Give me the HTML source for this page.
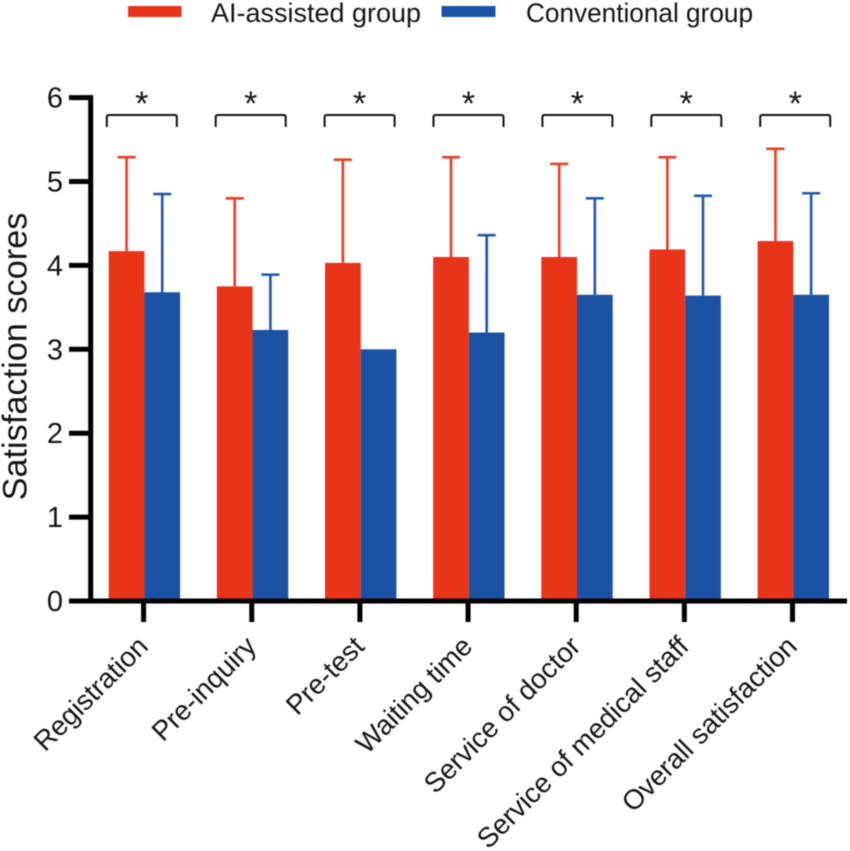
<!DOCTYPE html>
<html>
<head>
<meta charset="utf-8">
<style>
html,body{margin:0;padding:0;background:#fff;width:850px;height:851px;overflow:hidden}
svg{display:block;filter:blur(0.4px)}
text{font-family:"Liberation Sans",sans-serif;fill:#141414}
</style>
</head>
<body>
<svg id="chart" width="850" height="851" viewBox="0 0 850 851" xmlns="http://www.w3.org/2000/svg">
  <g>
    <rect x="128" y="6" width="53.5" height="11" fill="#e83418"/>
    <text x="211" y="22" font-size="27.2" textLength="210" lengthAdjust="spacingAndGlyphs">AI-assisted group</text>
    <rect x="441.5" y="6" width="54" height="11" fill="#1c52a3"/>
    <text x="526" y="22" font-size="27.2" textLength="227" lengthAdjust="spacingAndGlyphs">Conventional group</text>
  </g>
  <text transform="translate(26.5,356.5) rotate(-90)" text-anchor="middle" font-size="34.3">Satisfaction scores</text>
  <g id="marks"></g>
  <g id="axes"></g>
</svg>
<script>
const categories = ["Registration","Pre-inquiry","Pre-test","Waiting time","Service of doctor","Service of medical staff","Overall satisfaction"];
const aiMeans = [4.17,3.75,4.03,4.10,4.10,4.19,4.29];
const aiErrorTops = [5.29,4.80,5.26,5.29,5.21,5.29,5.39];
const conventionalMeans = [3.68,3.23,3.00,3.20,3.65,3.64,3.65];
const conventionalErrorTops = [4.85,3.89,3.00,4.36,4.80,4.83,4.86];
const yTicks = [0,1,2,3,4,5,6];
const significance = ["*","*","*","*","*","*","*"];

const NS = "http://www.w3.org/2000/svg";
const marks = document.getElementById("marks");
const axes = document.getElementById("axes");
const yScale = v => 601 - v * 83.9;
const xCenter = i => 144.4 + i * 108.15;
const bracketCenter = i => 141.8 + i * 108.9;
const barWidth = 35.7;
const RED = "#e83418", BLUE = "#1c52a3", RED_ERR = "#ee3c26", BLUE_ERR = "#2158aa", INK = "#000";

function make(tag, attrs, parent, text) {
  const el = document.createElementNS(NS, tag);
  for (const k in attrs) el.setAttribute(k, attrs[k]);
  if (text !== undefined) el.textContent = text;
  parent.appendChild(el);
  return el;
}

function drawSeries(means, tops, offset, fill, errColor, label) {
  means.forEach((m, i) => {
    const left = xCenter(i) + offset;
    const cx = left + barWidth / 2;
    if (tops[i] > m) {
      const stem = make("line", {x1: cx, x2: cx, y1: yScale(tops[i]), y2: yScale(m), stroke: errColor, "stroke-width": 2.6}, marks);
      
      
      const cap = make("line", {x1: cx - 9, x2: cx + 9, y1: yScale(tops[i]), y2: yScale(tops[i]), stroke: errColor, "stroke-width": 2.6}, marks);
      
      
    }
    const bar = make("rect", {x: left, y: yScale(m), width: barWidth, height: yScale(0) - yScale(m), fill: fill}, marks);
    
    
  });
}
drawSeries(aiMeans, aiErrorTops, -barWidth, RED, RED_ERR, "ai-assisted");
drawSeries(conventionalMeans, conventionalErrorTops, 0, BLUE, BLUE_ERR, "conventional");

significance.forEach((s, i) => {
  const c = bracketCenter(i);
  const bracket = make("path", {d: `M${c-35} 127V117Q${c-35} 115 ${c-33} 115H${c+33}Q${c+35} 115 ${c+35} 117V127`, fill: "none", stroke: "#111", "stroke-width": 2}, marks);
  
  
  const star = make("text", {x: c, y: 115, "text-anchor": "middle", "font-size": 34}, marks, s);
  
  
});

const yLine = make("line", {x1: 90.7, x2: 90.7, y1: yScale(6) - 2.5, y2: yScale(0), stroke: INK, "stroke-width": 5}, axes);


const xLine = make("line", {x1: 69, x2: 847, y1: yScale(0), y2: yScale(0), stroke: INK, "stroke-width": 5}, axes);



yTicks.forEach(t => {
  const tick = make("line", {x1: 69, x2: 90, y1: yScale(t), y2: yScale(t), stroke: INK, "stroke-width": 5}, axes);
  
  
  const lab = make("text", {x: 63, y: yScale(t) + 10, "text-anchor": "end", "font-size": 29}, axes, String(t));
  
  
});

categories.forEach((name, i) => {
  const x = xCenter(i) - 0.8;
  const tick = make("line", {x1: x, x2: x, y1: yScale(0), y2: 622, stroke: INK, "stroke-width": 5}, axes);
  
  
  const lab = make("text", {transform: `translate(${x + 6},${648}) rotate(-45)`, "text-anchor": "end", "font-size": 27.7}, axes, name);
  
  
});
</script>
</body>
</html>
